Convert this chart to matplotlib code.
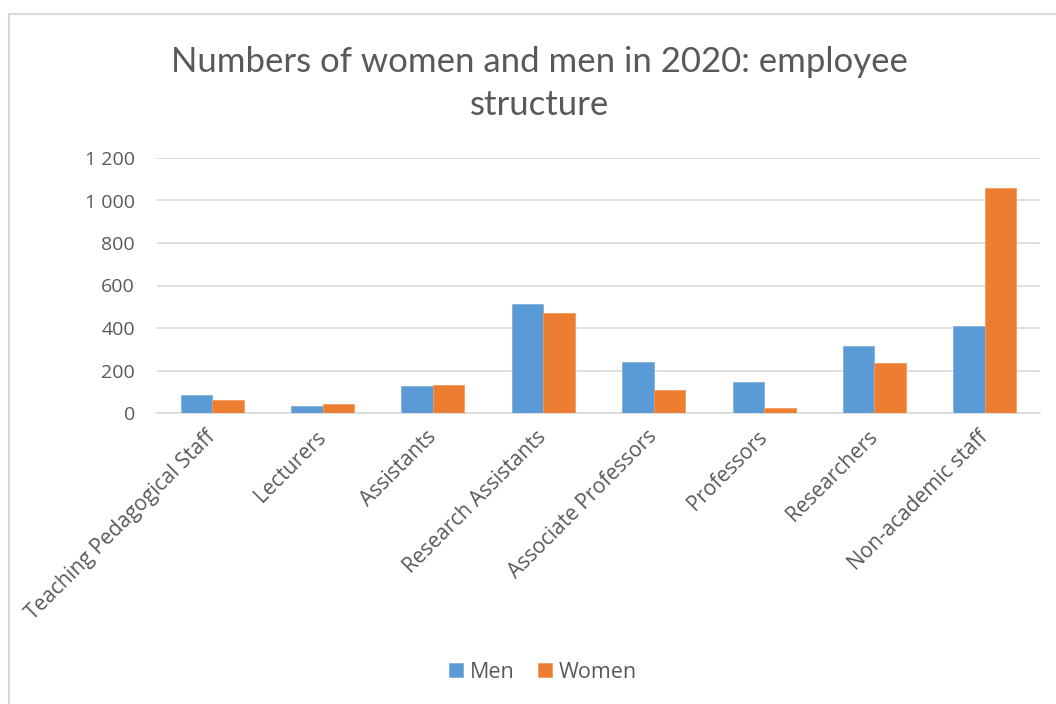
import matplotlib
matplotlib.use("Agg")
import matplotlib.pyplot as plt
from matplotlib.lines import Line2D
from matplotlib.ticker import FuncFormatter
import numpy as np

categories = ["Teaching Pedagogical Staff", "Lecturers", "Assistants",
              "Research Assistants", "Associate Professors", "Professors",
              "Researchers", "Non-academic staff"]
men = [85, 34, 129, 513, 242, 146, 315, 411]
women = [61, 44, 133, 471, 110, 24, 237, 1059]
y_ticks = [0, 200, 400, 600, 800, 1000, 1200]

text_color = "#595959"
grid_color = "#d9d9d9"

plt.rcParams['font.family'] = ['Open Sans', 'DejaVu Sans']

fig = plt.figure(figsize=(10.56, 7.04), dpi=100)
ax = fig.add_axes([157 / 1056, 1 - 413 / 704, (1040 - 157) / 1056, (413 - 158) / 704])

x = np.arange(len(categories))
w = 0.285
ax.bar(x - w / 2, men, w, color="#5B9BD5", edgecolor="#7fb1e0", linewidth=0.6, label="Men", zorder=3)
ax.bar(x + w / 2, women, w, color="#ED7D31", edgecolor="#f39a60", linewidth=0.6, label="Women", zorder=3)

ax.set_xlim(-0.5, len(categories) - 0.5)
ax.set_ylim(0, 1200)
ax.set_yticks(y_ticks)
ax.yaxis.set_major_formatter(FuncFormatter(lambda v, p: f"{int(v):,}".replace(",", " ")))
ax.grid(axis="y", color=grid_color, linewidth=1.2, zorder=0)
for s in ["top", "right", "left"]:
    ax.spines[s].set_visible(False)
ax.spines["bottom"].set_color(grid_color)
ax.spines["bottom"].set_linewidth(1.2)
ax.tick_params(axis="both", length=0, colors=text_color)
ax.tick_params(axis="y", pad=16, labelsize=14)

ax.set_xticks(x)
ax.set_xticklabels(categories, rotation=45, ha="right", rotation_mode="anchor", va="center")
ax.tick_params(axis="x", pad=15, labelsize=15)

fig.text(539 / 1056, 1 - 62 / 704, "Numbers of women and men in 2020: employee", ha="center", va="center",
         fontsize=25, color=text_color, family="Lato")
fig.text(539 / 1056, 1 - 105 / 704, "structure", ha="center", va="center", fontsize=25, color=text_color,
         family="Lato")

ax.legend(loc="center", bbox_to_anchor=(543 / 1056, (704 - 672) / 704), bbox_transform=fig.transFigure,
          ncol=2, frameon=False, fontsize=15.5, labelcolor=text_color, handlelength=0.65,
          handleheight=0.65, handletextpad=0.3, columnspacing=1.1)

# chart border
fig.add_artist(Line2D([8.5 / 1056, 8.5 / 1056], [0, 1 - 13.5 / 704], color=grid_color, linewidth=1.5,
                      transform=fig.transFigure))
fig.add_artist(Line2D([8.5 / 1056, 1], [1 - 13.5 / 704, 1 - 13.5 / 704], color=grid_color, linewidth=1.5,
                      transform=fig.transFigure))

fig.savefig("out.png", dpi=100)
